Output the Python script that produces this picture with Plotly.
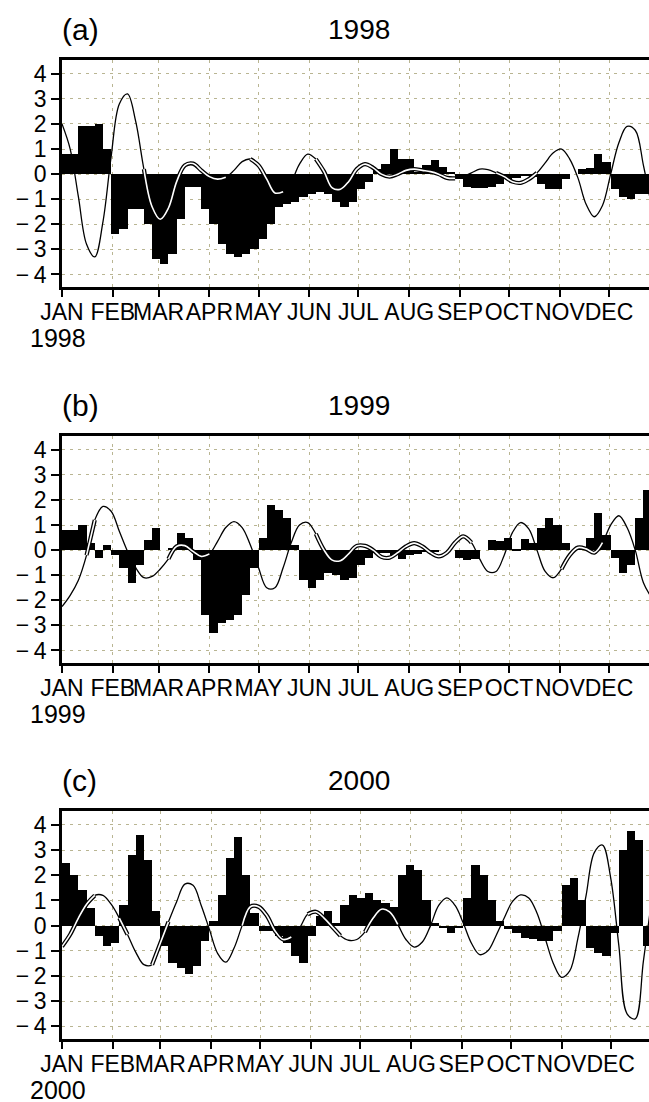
import plotly.graph_objects as go

# ---------------- data (5-day samples, day-of-year) ----------------
days = list(range(0, 365, 5))  # 0,5,...,360

years = ["1998", "1999", "2000"]
panel_tags = ["(a)", "(b)", "(c)"]
month_labels = ["JAN", "FEB", "MAR", "APR", "MAY", "JUN",
                "JUL", "AUG", "SEP", "OCT", "NOV", "DEC"]
month_start_common = [0, 31, 59, 90, 120, 151, 181, 212, 243, 273, 304, 334]
month_start_leap = [0, 31, 60, 91, 121, 152, 182, 213, 244, 274, 305, 335]
y_tick_vals = [-4, -3, -2, -1, 0, 1, 2, 3, 4]
y_tick_text = ["\u2212\u20094", "\u2212\u20093", "\u2212\u20092", "\u2212\u20091", "0", "1", "2", "3", "4"]

# shaded (black) series
area_1998 = [0.8, 0.8, 1.9, 1.9, 2.0, 1.0, -2.4, -2.2, -1.4, -1.4,
             -2.0, -3.4, -3.6, -3.2, -1.8, -0.5, -0.5, -1.4, -2.0, -2.8,
             -3.2, -3.3, -3.2, -3.0, -2.6, -2.0, -1.3, -1.2, -1.1, -0.9,
             -0.8, -0.7, -0.8, -1.1, -1.3, -1.1, -0.6, -0.3, 0.2, 0.4,
             1.0, 0.6, 0.6, 0.1, 0.35, 0.55, 0.3, 0.1, -0.2, -0.5,
             -0.55, -0.55, -0.5, -0.4, -0.2, -0.15, -0.05, -0.1, -0.4, -0.6,
             -0.6, -0.2, 0.0, 0.2, 0.25, 0.8, 0.5, -0.6, -0.9, -1.0,
             -0.8, -0.8, -0.8]
area_1999 = [0.8, 0.8, 1.0, 0.3, -0.3, 0.2, -0.2, -0.7, -1.3, -0.6,
             0.4, 0.9, 0.0, 0.1, 0.7, 0.5, -0.4, -2.6, -3.3, -2.9,
             -2.8, -2.6, -1.8, -0.7, 0.5, 1.8, 1.6, 1.3, 0.2, -1.2,
             -1.5, -1.2, -0.9, -1.0, -1.2, -1.1, -0.6, -0.3, -0.1, -0.1,
             -0.2, -0.35, -0.2, -0.15, -0.05, -0.05, 0.0, 0.0, -0.3, -0.4,
             -0.35, 0.0, 0.4, 0.35, 0.5, 0.05, 0.45, 0.3, 0.9, 1.3,
             1.0, 0.3, 0.0, 0.1, 0.5, 1.5, 0.6, -0.3, -0.9, -0.6,
             1.3, 2.4, 2.6]
area_2000 = [2.5, 2.0, 1.4, 0.7, -0.4, -0.8, -0.7, 0.8, 2.8, 3.6,
             2.6, 0.6, -0.8, -1.5, -1.7, -1.9, -1.6, -0.6, 0.2, 1.2,
             2.7, 3.5, 2.0, 0.5, -0.2, -0.2, -0.4, -0.7, -1.2, -1.5,
             -0.4, 0.4, 0.6, 0.1, 0.8, 1.2, 1.1, 1.3, 1.0, 0.9,
             0.75, 2.0, 2.4, 2.2, 1.0, 0.1, -0.1, -0.3, -0.1, 1.1,
             2.4, 2.0, 1.0, 0.2, -0.15, -0.3, -0.5, -0.55, -0.6, -0.6,
             -0.2, 1.6, 1.9, 1.0, -0.9, -1.1, -1.2, -0.3, 3.0, 3.75,
             3.4, -0.8, -1.0]

# smooth (line) series
curve_1998 = [2.0, 1.0, -0.9, -2.8, -3.3, -1.9, 0.7, 2.8, 3.2, 2.1,
              0.2, -1.3, -1.8, -1.35, -0.3, 0.35, 0.42, 0.15, -0.1, -0.2,
              -0.12, 0.15, 0.5, 0.6, 0.35, -0.2, -0.75, -0.7, -0.3, 0.4,
              0.8, 0.6, 0.1, -0.55, -0.6, -0.3, 0.2, 0.4, 0.25, 0.0,
              -0.1, 0.0, 0.15, 0.2, 0.15, 0.1, 0.0, -0.15, -0.17, -0.1,
              0.05, 0.2, 0.18, 0.05, -0.1, -0.3, -0.35, -0.2, 0.05, 0.45,
              0.85, 1.0, 0.6, -0.15, -1.2, -1.7, -1.25, 0.0, 1.25, 1.9,
              1.75, 0.35, -1.3]
curve_1999 = [-2.25, -1.8, -1.2, -0.2, 1.2, 1.74, 1.55, 0.75, -0.05, -0.7,
              -1.1, -1.05, -0.75, -0.35, 0.15, 0.18, -0.05, -0.25, -0.15, 0.35,
              0.9, 1.14, 0.9, 0.2, -0.7, -1.5, -1.5, -0.7, 0.3, 1.0,
              1.1, 0.65, 0.0, -0.4, -0.42, -0.15, 0.17, 0.17, 0.0, -0.27,
              -0.3, -0.1, 0.15, 0.28, 0.15, -0.1, -0.25, -0.1, 0.3, 0.55,
              0.3, -0.35, -0.85, -0.85, -0.2, 0.7, 1.1, 0.85, 0.0, -0.85,
              -1.1, -0.75, -0.2, 0.1, 0.05, -0.1, 0.3, 1.0, 1.37, 0.9,
              0.0, -1.3, -1.9]
curve_2000 = [-0.83, -0.35, 0.3, 0.85, 1.2, 1.2, 0.85, 0.3, -0.35, -1.05,
              -1.55, -1.55, -0.7, 0.15, 0.95, 1.65, 1.6, 0.8, -0.15, -1.1,
              -1.45, -0.9, 0.0, 0.75, 0.75, 0.4, -0.2, -0.55, -0.45, -0.1,
              0.45, 0.55, 0.3, -0.05, -0.4, -0.58, -0.55, -0.25, 0.3, 0.65,
              0.55, 0.05, -0.55, -0.85, -0.65, 0.0, 0.8, 1.1, 0.8, 0.1,
              -0.7, -1.15, -1.0, -0.4, 0.3, 0.95, 1.22, 1.1, 0.5, -0.5,
              -1.5, -2.05, -1.8, -0.5, 1.2, 2.9, 3.2, 1.9, -0.8, -3.5,
              -3.7, -1.4, 1.0]

# where the smooth curve is drawn as an outlined (double) line: 1 = outlined
outline_1998 = [0]*10 + [1]*11 + [0]*2 + [1]*5 + [0]*3 + [1]*18 + [0]*4 + [1]*6 + [0]*14
outline_1999 = [0]*3 + [1]*2 + [0]*8 + [1]*6 + [0]*12 + [1]*20 + [0]*10 + [1]*6 + [0]*6
outline_2000 = [1]*5 + [0]*2 + [1]*2 + [0]*2 + [1]*3 + [0]*8 + [1]*7 + [0]*1 + [1]*5 + [0]*2 + [1]*5 + [0]*31

areas = [area_1998, area_1999, area_2000]
curves = [curve_1998, curve_1999, curve_2000]
outlines = [outline_1998, outline_1999, outline_2000]
month_starts = [month_start_common, month_start_common, month_start_leap]

# ---------------- layout helpers ----------------
W, H = 649, 1102
ML = 62
PW = W - ML
def py(p):
    return 1 - p / H
def px(p):
    return (p - ML) / PW

panel_px = [(60, 287), (436, 663), (811, 1039)]
GRID = "#b9b592"
TICKFONT = dict(family="Liberation Sans, Arial, sans-serif", size=23, color="black")
TITLEFONT = dict(family="Liberation Sans, Arial, sans-serif", size=28, color="black")
TAGFONT = dict(family="Liberation Sans, Arial, sans-serif", size=30, color="black")
YEARFONT = dict(family="Liberation Sans, Arial, sans-serif", size=25, color="black")

fig = go.Figure()
annotations = []
layout_axes = {}

for i in range(3):
    xa = "x" if i == 0 else f"x{i+1}"
    ya = "y" if i == 0 else f"y{i+1}"
    bar_x = [d + 2.5 for d in days]
    fig.add_trace(go.Bar(x=bar_x, y=areas[i], width=5, marker=dict(color="black", line=dict(width=0)),
                         xaxis=xa, yaxis=ya, showlegend=False, hoverinfo="skip"))
    fig.add_trace(go.Scatter(x=days, y=curves[i], mode="lines",
                             line=dict(color="black", width=1.3, shape="spline", smoothing=1.0),
                             xaxis=xa, yaxis=ya, showlegend=False))
    masked = [v if m else None for v, m in zip(curves[i], outlines[i])]
    fig.add_trace(go.Scatter(x=days, y=masked, mode="lines", connectgaps=False,
                             line=dict(color="black", width=4.2, shape="spline", smoothing=1.0),
                             xaxis=xa, yaxis=ya, showlegend=False))
    fig.add_trace(go.Scatter(x=days, y=masked, mode="lines", connectgaps=False,
                             line=dict(color="white", width=1.6, shape="spline", smoothing=1.0),
                             xaxis=xa, yaxis=ya, showlegend=False))

    top, bot = panel_px[i]
    xkey = "xaxis" if i == 0 else f"xaxis{i+1}"
    ykey = "yaxis" if i == 0 else f"yaxis{i+1}"
    layout_axes[xkey] = dict(
        domain=[0, 1], anchor=ya, range=[0, 358.4],
        tickmode="array", tickvals=month_starts[i], ticktext=month_labels,
        tickangle=0, ticklabelstandoff=-5,
        ticks="outside", ticklen=7, tickwidth=1.5, tickcolor="black",
        showline=True, linewidth=3, linecolor="black", mirror=True,
        showgrid=True, gridcolor=GRID, griddash="3px,5px", gridwidth=1,
        zeroline=False, tickfont=TICKFONT, fixedrange=True)
    layout_axes[ykey] = dict(
        domain=[py(bot), py(top)], anchor=xa, range=[-4.5, 4.55],
        tickmode="array", tickvals=y_tick_vals, ticktext=y_tick_text,
        ticks="outside", ticklen=8, tickwidth=1.5, tickcolor="black",
        showline=True, linewidth=2.5, linecolor="black", mirror=False,
        showgrid=True, gridcolor=GRID, griddash="3px,5px", gridwidth=1,
        zeroline=False, tickfont=TICKFONT, fixedrange=True)

    annotations.append(dict(text=panel_tags[i], xref="paper", yref="paper",
                            x=px(60), y=py(top - 12), xanchor="left", yanchor="bottom",
                            showarrow=False, font=TAGFONT))
    annotations.append(dict(text=years[i], xref="paper", yref="paper",
                            x=px(359), y=py(top - 13), xanchor="center", yanchor="bottom",
                            showarrow=False, font=TITLEFONT))
    annotations.append(dict(text=years[i], xref="paper", yref="paper",
                            x=px(29), y=py(bot + 36), xanchor="left", yanchor="top",
                            borderpad=0, showarrow=False, font=YEARFONT))

fig.update_layout(
    width=W, height=H,
    margin=dict(l=ML, r=0, t=0, b=0),
    paper_bgcolor="white", plot_bgcolor="white",
    bargap=0, barmode="overlay",
    annotations=annotations,
    **layout_axes)

fig.write_html("out.html", config={"displayModeBar": False},
               post_script="document.body.style.margin='0';document.body.style.overflow='hidden';")
